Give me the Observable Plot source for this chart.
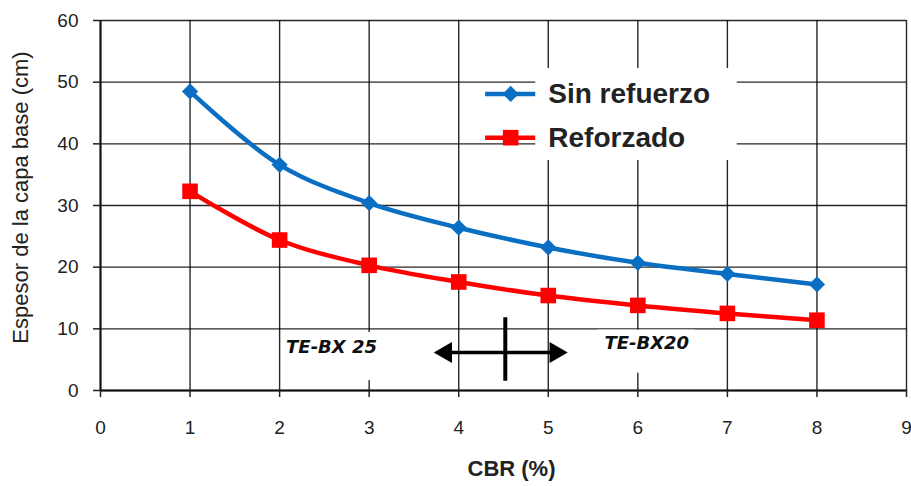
<!DOCTYPE html>
<html>
<head>
<meta charset="utf-8">
<script src="https://cdn.jsdelivr.net/npm/d3@7"></script>
<script src="https://cdn.jsdelivr.net/npm/@observablehq/plot@0.6"></script>
<style>
  html, body { margin: 0; padding: 0; background: #fff; }
  svg { display: block; }
</style>
</head>
<body>
<div id="chart"></div>
<script>
// ---- data ----
const cbr = [1, 2, 3, 4, 5, 6, 7, 8];
const sinRefuerzo = [48.5, 36.6, 30.4, 26.4, 23.2, 20.7, 18.9, 17.2];
const reforzado = [32.3, 24.4, 20.3, 17.6, 15.4, 13.8, 12.5, 11.4];
const seriesNames = ["Sin refuerzo", "Reforzado"];
const seriesColors = ["#0a6fc2", "#ff0000"];
const xTicks = [0, 1, 2, 3, 4, 5, 6, 7, 8, 9];
const yTicks = [0, 10, 20, 30, 40, 50, 60];
const xLabel = "CBR (%)";
const yLabel = "Espesor de la capa base (cm)";

// annotations (data coordinates)
const noteTexts = ["TE-BX 25", "TE-BX20"];
const noteX = [2.58, 6.1];
const noteY = [7.0, 7.6];
const noteBoxes = [
  {x1: 2.03, x2: 3.15, y1: 1.6, y2: 9.4},
  {x1: 5.56, x2: 6.64, y1: 2.8, y2: 9.8}
];
const arrowLine = [{x1: 3.86, x2: 5.08, y: 6.16}];
const arrowHeads = [{x: 3.857, y: 6.16, rot: -90}, {x: 5.082, y: 6.16, rot: 90}];
const crossLine = [{x: 4.52, y1: 1.5, y2: 11.8}];

// legend (data coordinates)
const legendBox = [{x1: 4.86, x2: 7.11, y1: 37.3, y2: 52.2}];
const legendLineX = [4.3, 4.86];
const legendSymbolX = 4.58;
const legendTextX = 5.0;
const legendY = [48.1, 41.0];

const data = [];
cbr.forEach((c, i) => {
  data.push({cbr: c, espesor: sinRefuerzo[i], serie: seriesNames[0]});
  data.push({cbr: c, espesor: reforzado[i], serie: seriesNames[1]});
});
const legend = seriesNames.map((s, i) => ({serie: s, y: legendY[i]}));
const notes = noteTexts.map((t, i) => ({text: t, x: noteX[i], y: noteY[i]}));

const gridStyle = {stroke: "#000", strokeOpacity: 0.85, strokeWidth: 1.4};

const chart = Plot.plot({
  width: 911,
  height: 486,
  marginLeft: 100,
  marginRight: 5,
  marginTop: 20,
  marginBottom: 96,
  style: {fontFamily: "'Liberation Sans', Arial, sans-serif", color: "#222", background: "#fff"},
  x: {domain: [0, 9]},
  y: {domain: [0, 60]},
  color: {domain: seriesNames, range: seriesColors},
  marks: [
    Plot.gridX(xTicks, gridStyle),
    Plot.gridY(yTicks, gridStyle),
    Plot.rect(noteBoxes, {x1: "x1", x2: "x2", y1: "y1", y2: "y2", fill: "#fff"}),
    Plot.rect(legendBox, {x1: "x1", x2: "x2", y1: "y1", y2: "y2", fill: "#fff"}),
    Plot.ruleX([0], {stroke: "#111", strokeWidth: 2}),
    Plot.ruleY([0], {stroke: "#111", strokeWidth: 2}),
    Plot.axisX(xTicks, {tickSize: 7, tickPadding: 23, fontSize: 19, label: null, strokeWidth: 1.5, tickFormat: d => String(d)}),
    Plot.axisY(yTicks, {tickSize: 7, tickPadding: 15, fontSize: 19, label: null, strokeWidth: 1.5, tickFormat: d => String(d)}),
    // series
    Plot.line(data, {x: "cbr", y: "espesor", z: "serie", stroke: "serie", curve: "catmull-rom", strokeWidth: 4.5}),
    Plot.dot(data.filter(d => d.serie === seriesNames[0]), {x: "cbr", y: "espesor", fill: "serie", symbol: () => "diamond2", r: 7.3}),
    Plot.dot(data.filter(d => d.serie === seriesNames[1]), {x: "cbr", y: "espesor", fill: "serie", symbol: () => "square", r: 8.8}),
    // legend
    Plot.ruleY(legend, {x1: legendLineX[0], x2: legendLineX[1], y: "y", stroke: "serie", strokeWidth: 4.5}),
    Plot.dot(legend.slice(0, 1), {x: legendSymbolX, y: "y", fill: "serie", symbol: () => "diamond2", r: 7.3}),
    Plot.dot(legend.slice(1), {x: legendSymbolX, y: "y", fill: "serie", symbol: () => "square", r: 8.8}),
    Plot.text(legend, {x: legendTextX, y: "y", text: "serie", textAnchor: "start", fontSize: 28, fontWeight: "bold", fill: "#222"}),
    // annotations
    Plot.text(notes, {x: "x", y: "y", text: "text", fontSize: 18, fontWeight: "bold", fontStyle: "italic", fontFamily: "'DejaVu Sans', Verdana, sans-serif", fill: "#111"}),
    Plot.ruleY(arrowLine, {x1: "x1", x2: "x2", y: "y", stroke: "#000", strokeWidth: 3.5}),
    Plot.dot(arrowHeads, {x: "x", y: "y", symbol: () => "triangle", rotate: "rot", r: 7.8, fill: "#000"}),
    Plot.ruleX(crossLine, {x: "x", y1: "y1", y2: "y2", stroke: "#000", strokeWidth: 4}),
    // axis labels
    Plot.text([yLabel], {frameAnchor: "left", textAnchor: "middle", lineAnchor: "middle", rotate: -90, dx: -80, dy: -8, fontSize: 22, fill: "#222"}),
    Plot.text([xLabel], {frameAnchor: "bottom", textAnchor: "middle", lineAnchor: "middle", dx: 8, dy: 78, fontSize: 22, fontWeight: "bold", fill: "#222"})
  ]
});
document.getElementById("chart").appendChild(chart);
</script>
</body>
</html>
